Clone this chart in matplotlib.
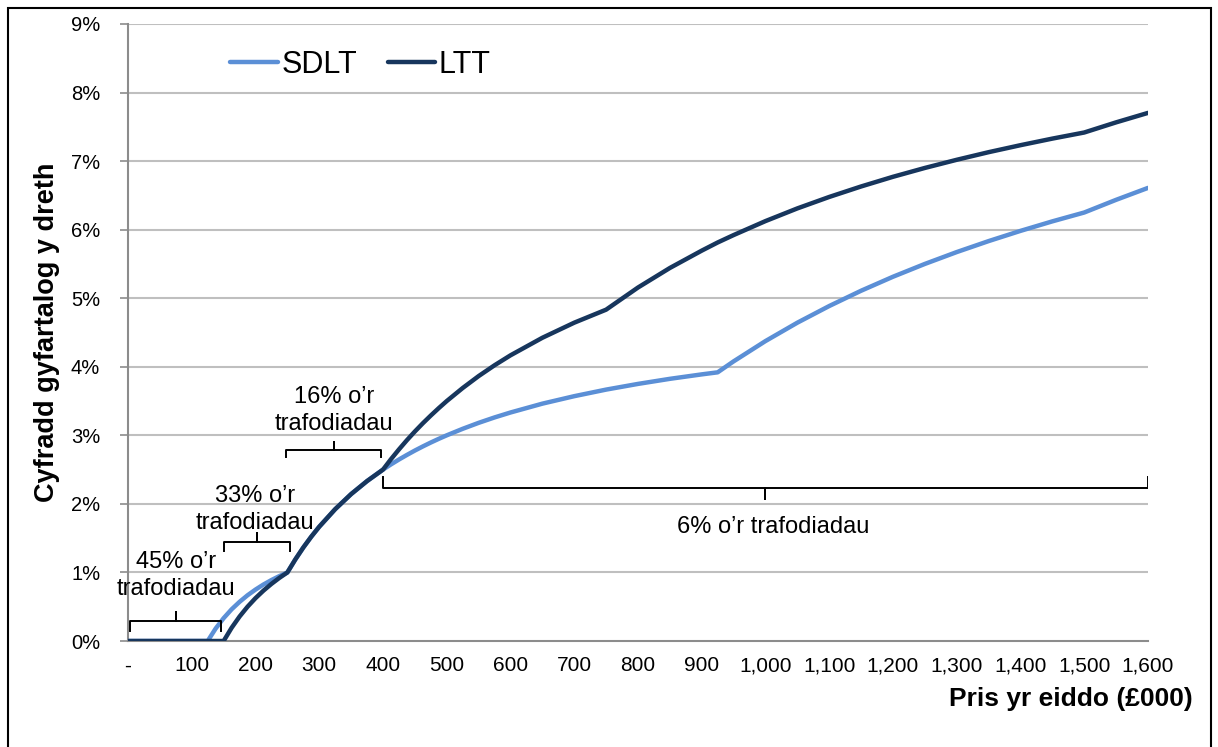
import matplotlib
matplotlib.use('Agg')
import matplotlib.pyplot as plt
from matplotlib.patches import Rectangle
from matplotlib.ticker import FuncFormatter

plt.rcParams['font.family'] = ['Liberation Sans', 'DejaVu Sans']

# pris yr eiddo (£000)
price = [0, 25, 50, 75, 100, 125, 137.5, 150, 162.5, 175, 187.5, 200, 212.5, 225, 237.5, 250,
         262.5, 275, 287.5, 300, 325, 350, 375,
         400, 412.5, 425, 437.5, 450, 462.5, 475, 487.5, 500, 525, 550, 575, 600, 650, 700, 750,
         800, 850, 900, 925, 950,
         1000, 1050, 1100, 1150, 1200, 1250, 1300, 1350, 1400, 1450, 1500, 1550, 1600]

# cyfradd gyfartalog (%)
sdlt = [0, 0, 0, 0, 0, 0, 0.182, 0.333, 0.462, 0.571, 0.667, 0.75, 0.824, 0.889, 0.947, 1.0,
        1.19, 1.364, 1.522, 1.667, 1.923, 2.143, 2.333,
        2.5, 2.576, 2.647, 2.714, 2.778, 2.838, 2.895, 2.949, 3.0, 3.095, 3.182, 3.261, 3.333, 3.462, 3.571, 3.667,
        3.75, 3.824, 3.889, 3.919, 4.079,
        4.375, 4.643, 4.886, 5.109, 5.313, 5.5, 5.673, 5.833, 5.982, 6.121, 6.25, 6.435, 6.609]

ltt = [0, 0, 0, 0, 0, 0, 0, 0, 0.192, 0.357, 0.5, 0.625, 0.735, 0.833, 0.921, 1.0,
       1.19, 1.364, 1.522, 1.667, 1.923, 2.143, 2.333,
       2.5, 2.652, 2.794, 2.929, 3.056, 3.176, 3.289, 3.397, 3.5, 3.69, 3.864, 4.022, 4.167, 4.423, 4.643, 4.833,
       5.156, 5.441, 5.694, 5.813, 5.921,
       6.125, 6.31, 6.477, 6.63, 6.771, 6.9, 7.019, 7.13, 7.232, 7.328, 7.417, 7.565, 7.703]

# bandiau trafodiadau: (o, i, label)
bands = [(3, 146, "45% o\u2019r\ntrafodiadau"),
         (151, 254, "33% o\u2019r\ntrafodiadau"),
         (248, 397, "16% o\u2019r\ntrafodiadau"),
         (400, 1600, "6% o\u2019r trafodiadau")]

x_ticks = list(range(0, 1700, 100))
y_ticks = list(range(0, 10))

C_SDLT = '#5B8FD6'
C_LTT = '#17365D'
GRID = '#BFBFBF'
AXIS = '#8C8C8C'

fig = plt.figure(figsize=(12.18, 7.47), dpi=100)
ax = fig.add_axes([0.1051, 0.1419, 0.8374, 0.826])

for y in y_ticks[1:]:
    ax.axhline(y, color=GRID, lw=1.5, zorder=0)

ax.plot(price, sdlt, color=C_SDLT, lw=3.2, label='SDLT', solid_capstyle='round', zorder=3)
ax.plot(price, ltt, color=C_LTT, lw=3.2, label='LTT', solid_capstyle='round', zorder=4)

ax.set_xlim(0, 1600)
ax.set_ylim(0, 9)
ax.set_xticks(x_ticks)
ax.set_yticks(y_ticks)
ax.xaxis.set_major_formatter(FuncFormatter(lambda v, p: '-' if v == 0 else f'{int(v):,}'))
ax.yaxis.set_major_formatter(FuncFormatter(lambda v, p: f'{int(v)}%'))
ax.tick_params(axis='x', length=0, labelsize=15, pad=11)
ax.tick_params(axis='y', length=6, width=1.2, color=AXIS, labelsize=14.5, pad=14)

for s in ['top', 'right']:
    ax.spines[s].set_visible(False)
for s in ['left', 'bottom']:
    ax.spines[s].set_color(AXIS)
    ax.spines[s].set_linewidth(1.5)

ax.set_ylabel('Cyfradd gyfartalog y dreth', fontsize=19.5, fontweight='bold', labelpad=8)
fig.text(0.979, 0.064, 'Pris yr eiddo (\u00a3000)', fontsize=19, fontweight='bold',
         ha='right', va='center')

leg = ax.legend(loc='upper left', bbox_to_anchor=(0.075, 1.0), ncol=2, frameon=False,
                fontsize=22, handlelength=1.55, handletextpad=0.12, columnspacing=1.0,
                borderaxespad=0.45)

# cromfachau
def bracket(x0, x1, y, h, txt, tx, ty):
    xm = (x0 + x1) / 2
    ax.plot([x0, x0, xm, xm, xm, x1, x1], [y - h, y, y, y + h, y, y, y - h],
            color='black', lw=1.4, zorder=5)
    ax.text(tx, ty, txt, ha='center', va='center', fontsize=17, linespacing=1.3, zorder=6)

b = bands
bracket(b[0][0], b[0][1], 0.29, 0.14, b[0][2], 75, 0.95)
bracket(b[1][0], b[1][1], 1.44, 0.13, b[1][2], 199, 1.92)
bracket(b[2][0], b[2][1], 2.79, 0.11, b[2][2], 323, 3.36)
bracket(b[3][0], b[3][1], 2.23, -0.16, b[3][2], 1012, 1.66)

fig.patches.append(Rectangle((8 / 1218, -0.02), 1203 / 1218, (739 / 747) + 0.02,
                             transform=fig.transFigure, fill=False, ec='black', lw=1.5))

fig.savefig('out.png', dpi=100)
